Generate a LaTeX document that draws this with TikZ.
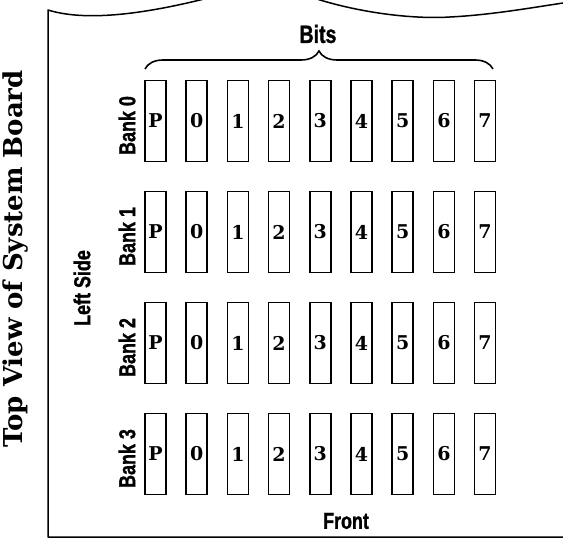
\documentclass[tikz,border=0pt]{standalone}
\usepackage{fontspec}
\setmainfont{DejaVu Serif}
\usetikzlibrary{decorations.pathreplacing}
\newfontfamily\labelfont[FakeStretch=0.78, FakeBold=1.2]{Liberation Sans}

\begin{document}
\begin{tikzpicture}[
		x=1pt, y=-1pt,
		chip/.style={draw, line width=1.5pt, minimum width=21pt, minimum height=81pt, inner sep=0pt, font=\bfseries\fontsize{19}{19}\selectfont},
		side label/.style={font=\labelfont\bfseries\fontsize{23}{23}\selectfont},
		bank label/.style={side label, rotate=90},
		frame line/.style={line width=1.5pt, line join=round}
		]
		\useasboundingbox (0,0) rectangle (563,540);
		
		% ---------------------------------------------------------
		% Board outline (torn top edge)
		% ---------------------------------------------------------
		\begin{scope}
			\clip (0,0) rectangle (563,540);
			\draw[frame line] (563,537) -- (48,537) -- (48,10)
			.. controls (80,20) and (130,17) .. (200,0)
			.. controls (240,-10) and (290,-10) .. (320,0)
			.. controls (370,15) and (420,19) .. (450,17)
			.. controls (490,15) and (530,8) .. (563,3);
		\end{scope}
		
		\node[rotate=90, font=\bfseries\fontsize{26}{26}\selectfont] (title) at (16,259) {Top View of System Board};
		\node[side label, rotate=90] (left) at (82,288) {Left Side};
		\node[side label] (front) at (346,521) {Front};
		
		% ---------------------------------------------------------
		% Memory banks: parity bit and bits 0-7
		% ---------------------------------------------------------
		\foreach \row in {0,...,3} {
			\node[bank label] (bank-\row) at (127,125.5+111*\row) {Bank \row};
			\foreach \bit [count=\c from 0] in {P,0,1,2,3,4,5,6,7} {
				\node[chip] (chip-\row-\c) at (155.5+41.2*\c,121+111*\row) {\bit};
			}
		}
		
		% Brace over the bit columns
		\coordinate (brace-l) at (145,69);
		\coordinate (brace-r) at (493,69);
		\draw[line width=1.6pt, decorate, decoration={brace, amplitude=18pt}] (brace-l) -- (brace-r);
		\node[side label, font=\labelfont\bfseries\fontsize{25}{25}\selectfont] (bits) at (318,34) {Bits};
		
	\end{tikzpicture}
\end{document}
